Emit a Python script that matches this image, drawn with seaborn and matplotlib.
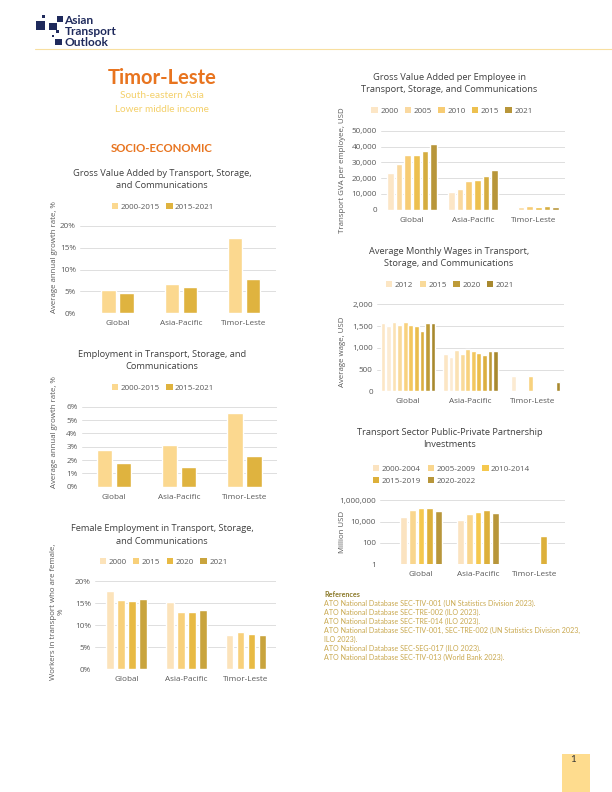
import numpy as np
import pandas as pd
import matplotlib
matplotlib.use("Agg")
import matplotlib.pyplot as plt
import seaborn as sns
from matplotlib.patches import Rectangle, Patch
from matplotlib.ticker import FuncFormatter, FixedLocator

# ---------------- data ----------------
regions = ["Global", "Asia-Pacific", "Timor-Leste"]

growth_periods = ["2000-2015", "2015-2021"]
gva_growth_2000_2015 = [5.4, 6.8, 17.2]
gva_growth_2015_2021 = [4.7, 6.0, 7.8]
emp_growth_2000_2015 = [2.75, 3.1, 5.5]
emp_growth_2015_2021 = [1.75, 1.45, 2.3]

female_years = ["2000", "2015", "2020", "2021"]
female_2000 = [17.8, 15.2, 7.7]
female_2015 = [15.6, 13.0, 8.5]
female_2020 = [15.5, 13.0, 8.0]
female_2021 = [15.9, 13.4, 7.7]

gvape_years = ["2000", "2005", "2010", "2015", "2020", "2021"]
gvape_2000 = [23500, 11000, np.nan]
gvape_2005 = [29000, 13000, 1800]
gvape_2010 = [34500, 18000, 2400]
gvape_2015 = [34700, 19000, 1400]
gvape_2020 = [37000, 21500, 2200]
gvape_2021 = [41500, 25000, 2000]
gvape_legend = ["2000", "2005", "2010", "2015", "2021"]

wage_years = ["2012", "2013", "2014", "2015", "2016", "2017", "2018", "2019", "2020", "2021"]
wage_global = [1580, 1500, 1600, 1520, 1590, 1525, 1495, 1390, 1565, 1565]
wage_asia = [850, 795, 940, 865, 965, 920, 870, 840, 920, 935]
wage_timor = [np.nan, 350, np.nan, np.nan, 350, np.nan, np.nan, np.nan, np.nan, 210]
wage_legend = ["2012", "2015", "2020", "2021"]

ppp_periods = ["2000-2004", "2005-2009", "2010-2014", "2015-2019", "2020-2022"]
ppp_global = [27500, 115000, 190000, 205000, 100000]
ppp_asia = [15600, 52000, 87000, 115000, 70000]
ppp_timor = [np.nan, np.nan, np.nan, 470, np.nan]

references = [
    "ATO National Database SEC-TIV-001 (UN Statistics Division 2023).",
    "ATO National Database SEC-TRE-002 (ILO 2023).",
    "ATO National Database SEC-TRE-014 (ILO 2023).",
    "ATO National Database SEC-TIV-001, SEC-TRE-002 (UN Statistics Division 2023,",
    "ILO 2023).",
    "ATO National Database SEC-SEG-017 (ILO 2023).",
    "ATO National Database SEC-TIV-013 (World Bank 2023).",
]

# ---------------- style ----------------
sns.set_theme(style="white")
plt.rcParams["font.family"] = ["Open Sans", "DejaVu Sans"]
TXT = "#595959"
GRID = "#D9D9D9"
FONT_HDR = ["Lato", "DejaVu Sans"]

W, H = 612, 792
fig = plt.figure(figsize=(6.12, 7.92), dpi=100)
fig.patch.set_facecolor("white")


def fx(x):
    return x / W


def fy(y):
    return 1 - y / H


def long_df(series_names, series_values):
    rows = []
    for name, vals in zip(series_names, series_values):
        for r, v in zip(regions, vals):
            rows.append({"region": r, "series": name, "value": v})
    return pd.DataFrame(rows)


def chart(x0, x1, ytop, ybot, centers, names, values, colors, ylim, yticks,
          fmt, width, gap, title, title_xy, ylabel, ylabel_xy, legend_xy,
          legend_names=None, legend_ncol=None, legend_order=None, log=False,
          tick_fs=5.9):
    ax = fig.add_axes([fx(x0), fy(ybot), fx(x1) - fx(x0), fy(ytop) - fy(ybot)])
    df = long_df(names, values)
    df = df.dropna()
    pal = dict(zip(names, colors))
    if log:
        ax.set_yscale("log")
    sns.barplot(data=df, x="region", y="value", hue="series", order=regions,
                hue_order=names, palette=pal, width=width, gap=gap, ax=ax,
                legend=False, saturation=1, errorbar=None)
    pitch = (centers[2] - centers[0]) / 2
    xmin = -(centers[0] - x0) / pitch
    xmax = 2 + (x1 - centers[2]) / pitch
    ax.set_xlim(xmin, xmax)
    ax.set_ylim(*ylim)
    ax.yaxis.set_major_locator(FixedLocator(yticks))
    ax.yaxis.set_minor_locator(FixedLocator([]))
    ax.yaxis.set_major_formatter(FuncFormatter(fmt))
    ax.grid(axis="y", color=GRID, lw=0.6)
    ax.set_axisbelow(True)
    for s in ax.spines.values():
        s.set_visible(False)
    ax.tick_params(axis="both", length=0, labelsize=tick_fs, colors=TXT)
    ax.tick_params(axis="x", pad=5)
    ax.tick_params(axis="y", pad=3)
    ax.set_xlabel("")
    ax.set_ylabel("")
    fig.text(fx(title_xy[0]), fy(title_xy[1]), title, ha="center", va="center",
             fontsize=6.7, color="#404040", linespacing=1.45)
    fig.text(fx(ylabel_xy[0]), fy(ylabel_xy[1]), ylabel, ha="center", va="center",
             rotation=90, fontsize=5.7, color=TXT, linespacing=1.1)
    if legend_names is None:
        legend_names = names
    handles = [Patch(facecolor=pal[n], edgecolor="none") for n in legend_names]
    labels = list(legend_names)
    if legend_order is not None:
        handles = [handles[i] for i in legend_order]
        labels = [labels[i] for i in legend_order]
    ncol = legend_ncol if legend_ncol else len(legend_names)
    fig.legend(handles, labels, loc="center", bbox_to_anchor=(fx(legend_xy[0]), fy(legend_xy[1])),
               ncol=ncol, frameon=False, fontsize=5.8, handlelength=0.8,
               handleheight=0.8, handletextpad=0.3, columnspacing=0.8,
               borderpad=0, borderaxespad=0, labelspacing=0.5, labelcolor=TXT)
    return ax


pct = lambda v, p: f"{v:.0f}%"
comma = lambda v, p: f"{v:,.0f}"

c_growth = ["#FBD88F", "#DFB33F"]

# Chart 1
chart(80, 276, 225.7, 313.3, [117.5, 180.5, 244], growth_periods,
      [gva_growth_2000_2015, gva_growth_2015_2021], c_growth, (0, 20),
      [0, 5, 10, 15, 20], pct, 0.57, 0.22,
      "Gross Value Added by Transport, Storage,\nand Communications", (162, 179.5),
      "Average annual growth rate, %", (55, 257), (163, 207))

# Chart 2
chart(81.7, 277, 406.7, 486.7, [114, 179.5, 244.5], growth_periods,
      [emp_growth_2000_2015, emp_growth_2015_2021], c_growth, (0, 6),
      [0, 1, 2, 3, 4, 5, 6], pct, 0.58, 0.2,
      "Employment in Transport, Storage, and\nCommunications", (162, 360.5),
      "Average annual growth rate, %", (54, 432), (163, 388))

# Chart 3 female
chart(95, 276, 581, 669, [126.5, 186.5, 246], female_years,
      [female_2000, female_2015, female_2020, female_2021],
      ["#FCE3BA", "#F8D07A", "#E8BA44", "#C9A43D"], (0, 20),
      [0, 5, 10, 15, 20], pct, 0.74, 0.3,
      "Female Employment in Transport, Storage,\nand Communications", (162, 535),
      "Workers in transport who are female,\n%", (57, 612), (163.5, 562))

# Chart 4 GVA per employee
chart(381, 565, 131, 209.7, [412, 473, 534], gvape_years,
      [gvape_2000, gvape_2005, gvape_2010, gvape_2015, gvape_2020, gvape_2021],
      ["#FCE6C6", "#FAD9A0", "#F7CC74", "#EDC04F", "#D5AD40", "#B8963A"], (0, 50000),
      [0, 10000, 20000, 30000, 40000, 50000], comma, 0.86, 0.23,
      "Gross Value Added per Employee in\nTransport, Storage, and Communications", (449.5, 83.3),
      "Transport GVA per employee, USD", (343, 170), (452, 111),
      legend_names=gvape_legend)

# Chart 5 wages
wage_cols = ["#FCE6C4", "#FCEBD2", "#FBE2B4", "#F9DA9A", "#F8D27E", "#F3C75E",
             "#EABD4C", "#DCAF3F", "#BE9B38", "#A8892F"]
wage_vals = [[wage_global[i], wage_asia[i], wage_timor[i]] for i in range(len(wage_years))]
chart(377, 564, 304.3, 391.3, [408, 470.5, 533], wage_years, wage_vals, wage_cols,
      (0, 2000), [0, 500, 1000, 1500, 2000], comma, 0.89, 0.15,
      "Average Monthly Wages in Transport,\nStorage, and Communications", (449, 257.5),
      "Average wage, USD", (343, 352), (450, 285), legend_names=wage_legend)

# Chart 6 PPP (log)
ppp_vals = [[ppp_global[i], ppp_asia[i], ppp_timor[i]] for i in range(len(ppp_periods))]
chart(380, 565, 500.3, 564.3, [421, 478, 535], ppp_periods, ppp_vals,
      ["#FBE3C0", "#F9D68E", "#F5C84E", "#DDB03A", "#B8963A"], (1, 1e6),
      [1, 100, 10000, 1000000], comma, 0.77, 0.24,
      "Transport Sector Public-Private Partnership\nInvestments", (449.5, 438.3),
      "Million USD", (343, 532), (451.5, 475), legend_ncol=3,
      legend_order=[0, 3, 1, 4, 2], log=True)

# ---------------- header / decorations ----------------
deco = fig.add_axes([0, 0, 1, 1])
deco.set_xlim(0, W)
deco.set_ylim(H, 0)
deco.axis("off")
deco.patch.set_alpha(0)
navy = "#1F2A5C"
for (x, y, w, h) in [(36, 21, 9, 9), (49, 23, 8, 6.5), (42, 15, 2.7, 2.7), (57, 16, 5.5, 5.5),
                     (56, 30, 3, 3), (52, 35, 2.2, 2.2), (55, 39, 7, 6)]:
    deco.add_patch(Rectangle((x, y), w, h, facecolor=navy, edgecolor="none"))
for t, y in [("Asian", 20), ("Transport", 31.5), ("Outlook", 42.5)]:
    deco.text(64.5, y, t, fontsize=8.6, fontweight="bold", color=navy, va="center",
              ha="left", family=FONT_HDR)
deco.plot([35, 612], [49.3, 49.3], color="#F8DFA0", lw=0.8)

orange = "#E8741F"
deco.text(162, 77.5, "Timor-Leste", fontsize=14.5, fontweight="bold", color=orange,
          ha="center", va="center", family=FONT_HDR)
deco.text(162, 96, "South-eastern Asia", fontsize=7.2, color="#F4D06A", ha="center",
          va="center", family=FONT_HDR)
deco.text(162, 110, "Lower middle income", fontsize=7.2, color="#F4D06A", ha="center",
          va="center", family=FONT_HDR)
deco.text(162, 149, "SOCIO-ECONOMIC", fontsize=8.2, fontweight="bold", color=orange,
          ha="center", va="center", family=FONT_HDR)

# references
deco.text(324, 594.3, "References", fontsize=5.1, fontweight="bold", color="#8C7A2A",
          ha="left", va="center", family=FONT_HDR)
ref_y = [603.3, 612.3, 621, 630, 639, 648.3, 657.7]
for t, y in zip(references, ref_y):
    deco.text(324, y, t, fontsize=5.1, color="#C9A84E", ha="left", va="center",
              family=FONT_HDR)

# page number box
deco.add_patch(Rectangle((561.7, 754), 28.3, 38, facecolor="#FEDC8E", edgecolor="none"))
deco.text(573, 760, "1", fontsize=7, color="#333333", ha="center", va="center",
          family=FONT_HDR)

fig.savefig("out.png", dpi=100, facecolor="white")
